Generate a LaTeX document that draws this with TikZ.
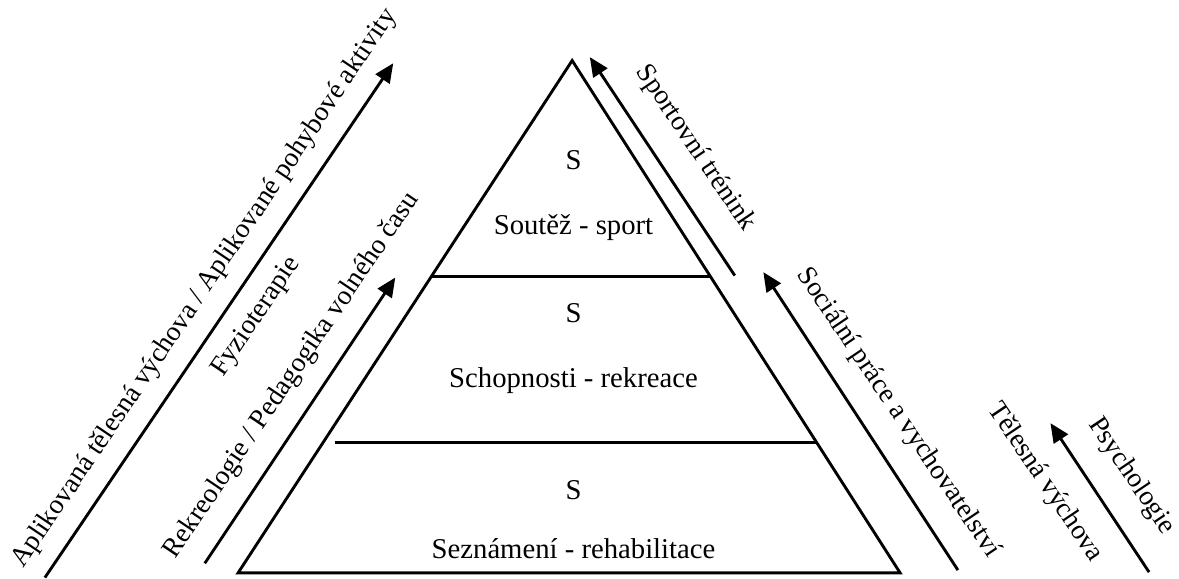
\documentclass[tikz,border=0pt]{standalone}
\usepackage{fontspec}
\setmainfont{Liberation Serif}
\usetikzlibrary{arrows.meta}

\tikzset{
  lvl/.style={black, line width=1.2pt},
  arr/.style={black, line width=1.2pt, -{Triangle[length=8pt,width=7pt]}},
  txt/.style={font=\fontsize{12}{14}\selectfont, inner sep=0pt},
  side/.style={font=\fontsize{11.5}{14}\selectfont, inner sep=0pt},
}

\begin{document}
\begin{tikzpicture}
        \useasboundingbox (0,0) rectangle (17.33,8.50);
        % pyramid
        \coordinate (apex) at (8.41,7.61);
        \coordinate (bl) at (3.50,0.08);
        \coordinate (br) at (13.23,0.08);
        \draw[lvl, line join=miter] (bl) -- (apex) -- (br) -- cycle;
        \coordinate (l1) at (6.34,4.44);
        \coordinate (r1) at (10.44,4.44);
        \draw[lvl] (l1) -- (r1);
        \coordinate (l2) at (4.92,2.00);
        \coordinate (r2) at (12.00,2.00);
        \draw[lvl] (l2) -- (r2);
        \node[txt] (s3) at (8.43,6.14) {S};
        \node[txt] (n3) at (8.43,5.15) {Soutěž - sport};
        \node[txt] (s2) at (8.43,3.90) {S};
        \node[txt] (n2) at (8.43,2.91) {Schopnosti - rekreace};
        \node[txt] (s1) at (8.43,1.29) {S};
        \node[txt] (n1) at (8.43,0.44) {Seznámení - rehabilitace};
        % left arrows
        \coordinate (apla) at (0.66,0.01);
        \coordinate (aplb) at (5.78,7.57);
        \draw[arr] (apla) -- (aplb);
        \coordinate (reka) at (3.01,0.22);
        \coordinate (rekb) at (5.81,4.42);
        \draw[arr] (reka) -- (rekb);
        \node[side, rotate=56] (apl) at (3.01,4.26) {Aplikovaná tělesná výchova / Aplikované pohybové aktivity};
        \node[side, rotate=56] (fyz) at (3.77,3.84) {Fyzioterapie};
        \node[side, rotate=56] (rek) at (4.29,2.98) {Rekreologie / Pedagogika volného času};
        % right arrows
        \coordinate (spoa) at (10.80,4.45);
        \coordinate (spob) at (8.67,7.66);
        \draw[arr] (spoa) -- (spob);
        \coordinate (soca) at (14.08,0.12);
        \coordinate (socb) at (11.22,4.50);
        \draw[arr] (soca) -- (socb);
        \coordinate (psya) at (16.89,0.09);
        \coordinate (psyb) at (15.44,2.28);
        \draw[arr] (psya) -- (psyb);
        \node[side, rotate=-56] (spo) at (10.22,6.32) {Sportovní trénink};
        \node[side, rotate=-56] (soc) at (13.20,2.43) {Sociální práce a vychovatelství};
        \node[side, rotate=-56] (tel) at (15.36,1.41) {Tělesná výchova};
        \node[side, rotate=-56] (psy) at (16.63,1.50) {Psychologie};
\end{tikzpicture}
\end{document}
